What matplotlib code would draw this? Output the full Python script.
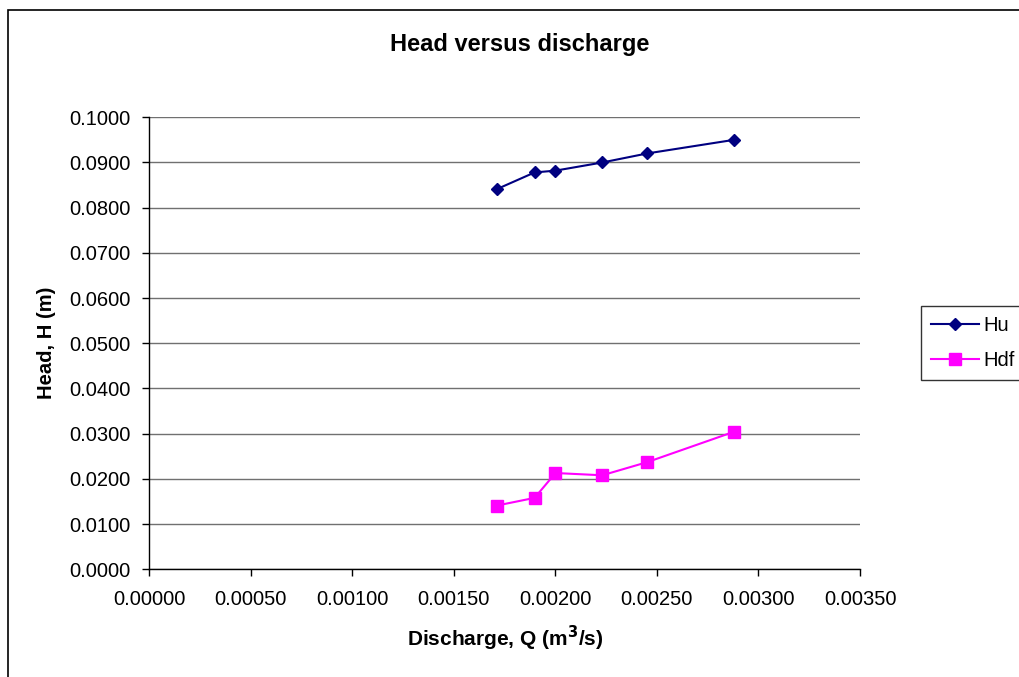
import matplotlib
matplotlib.use("Agg")
import matplotlib.pyplot as plt
from matplotlib.patches import Rectangle

plt.rcParams['font.family'] = ['Liberation Sans', 'DejaVu Sans']

# discharge readings and the two measured heads
discharge = [0.001712, 0.001898, 0.002001, 0.002231, 0.002452, 0.002878]
hu = [0.0841, 0.0878, 0.0882, 0.0900, 0.0920, 0.0950]
hdf = [0.0141, 0.0158, 0.0213, 0.0208, 0.0237, 0.0304]

x_ticks = [0.0, 0.0005, 0.0010, 0.0015, 0.0020, 0.0025, 0.0030, 0.0035]
y_ticks = [0.0, 0.01, 0.02, 0.03, 0.04, 0.05, 0.06, 0.07, 0.08, 0.09, 0.10]

fig = plt.figure(figsize=(10.19, 6.77), dpi=100)
ax = fig.add_axes([149 / 1019, 1 - 569.3 / 677, (860 - 149) / 1019, (569.3 - 117.3) / 677])

ax.plot(discharge, hu, color='#000080', lw=1.5, marker='D', ms=6.5,
        mec='#000080', mfc='#000080', label='Hu', zorder=3)
ax.plot(discharge, hdf, color='#FF00FF', lw=1.5, marker='s', ms=8,
        mec='#FF00FF', mfc='#FF00FF', label='Hdf', zorder=3)

ax.set_xlim(0, 0.0035)
ax.set_ylim(0, 0.1)
ax.set_xticks(x_ticks)
ax.set_yticks(y_ticks)
ax.set_xticklabels([f'{v:.5f}' for v in x_ticks])
ax.set_yticklabels([f'{v:.4f}' for v in y_ticks])
ax.tick_params(axis='both', labelsize=14.5, direction='out', length=5, width=1, color='black')
ax.tick_params(axis='x', pad=10)
ax.tick_params(axis='y', pad=8)

ax.yaxis.grid(True, color='#707070', lw=1)
ax.set_axisbelow(True)
for side in ['top', 'right']:
    ax.spines[side].set_visible(False)
for side in ['left', 'bottom']:
    ax.spines[side].set_color('black')
    ax.spines[side].set_linewidth(1)

fig.text(520 / 1019, 1 - 44 / 677, 'Head versus discharge', ha='center', va='center',
         fontsize=17, fontweight='bold')
fig.text(505 / 1019, 1 - 638 / 677, 'Discharge, Q (m$^{\\mathbf{3}}$/s)', ha='center', va='center',
         fontsize=15, fontweight='bold')
fig.text(47 / 1019, 1 - 343 / 677, 'Head, H (m)', ha='center', va='center', rotation=90,
         fontsize=14.5, fontweight='bold')

leg = fig.legend(loc='center left', bbox_to_anchor=(921 / 1019, 1 - 343 / 677), fontsize=14.5,
                 frameon=True, fancybox=False, edgecolor='black', handlelength=2.4,
                 handletextpad=0.2, borderpad=0.5, labelspacing=0.8, borderaxespad=0)
leg.get_frame().set_linewidth(1)

# outer chart border
fig.patches.append(Rectangle((8 / 1019, -0.05), 1.1, 1 - 10 / 677 + 0.05, transform=fig.transFigure,
                             fill=False, edgecolor='black', lw=1.2))

fig.savefig('out.png', dpi=100)
